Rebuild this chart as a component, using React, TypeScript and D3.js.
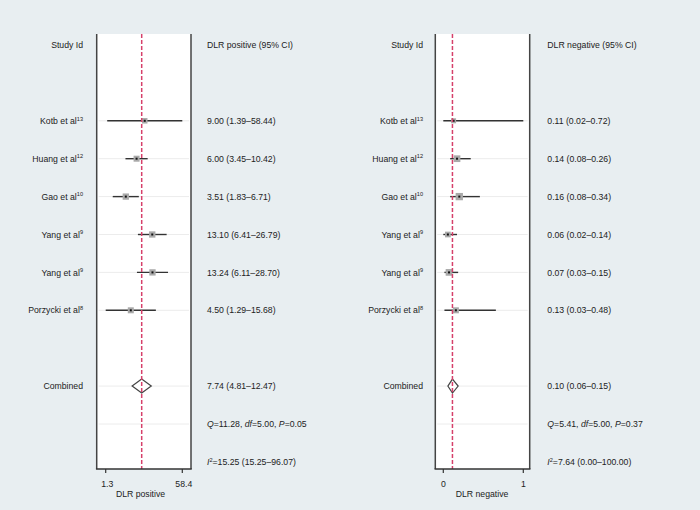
import React from "react";
import * as d3 from "d3";

const studies = ["Kotb et al", "Huang et al", "Gao et al", "Yang et al", "Yang et al", "Porzycki et al"];
const refs = ["13", "12", "10", "9", "9", "8"];

const posEst = [9.0, 6.0, 3.51, 13.1, 13.24, 4.5];
const posLo = [1.39, 3.45, 1.83, 6.41, 6.11, 1.29];
const posHi = [58.44, 10.42, 6.71, 26.79, 28.7, 15.68];
const posWeight = [5.5, 6, 6.3, 6.3, 6.3, 6];
const posPooled = [7.74, 4.81, 12.47];
const posQ = ["11.28", "5.00", "0.05"];
const posI2 = ["15.25", "15.25–96.07"];
const posTickValues = [1.29, 58.44];
const posTickLabels = ["1.3", "58.4"];

const negEst = [0.11, 0.14, 0.16, 0.06, 0.07, 0.13];
const negLo = [0.02, 0.08, 0.08, 0.02, 0.03, 0.03];
const negHi = [0.72, 0.26, 0.34, 0.14, 0.15, 0.48];
const negWeight = [5, 6.7, 7.3, 5.7, 6.7, 6];
const negPooled = [0.1, 0.06, 0.15];
const negQ = ["5.41", "5.00", "0.37"];
const negI2 = ["7.64", "0.00–100.00"];
const negTickValues = [0.02, 0.72];
const negTickLabels = ["0", "1"];

const fmt2 = d3.format(".2f");
const FONT = "'Liberation Sans', Arial, Helvetica, sans-serif";
const FS = 8.7;
const BG = "#e8eef1";
const RED = "#d6406a";
const INK = "#222";

const rowY = d3.scaleLinear().domain([0, 11]).range([45, 45 + 37.9 * 11]);

type PanelProps = {
  boxLeft: number;
  boxRight: number;
  tickInsetL: number;
  tickInsetR: number;
  labelRight: number;
  textLeft: number;
  titleX: number;
  log: boolean;
  est: number[];
  lo: number[];
  hi: number[];
  weight: number[];
  pooled: number[];
  q: string[];
  i2: string[];
  tickValues: number[];
  tickLabels: string[];
  header: string;
  axisTitle: string;
};

function Panel(p: PanelProps) {
  const top = 34;
  const bottom = 469;
  const x = (p.log ? d3.scaleLog() : d3.scaleLinear())
    .domain(p.tickValues)
    .range([p.boxLeft + p.tickInsetL, p.boxRight - p.tickInsetR]);
  const base = (y: number) => y + 3.1;
  const studyRows = studies.map((_, i) => i + 2);
  const pooledRow = 9;
  const qRow = 10;
  const i2Row = 11;
  const gridRows = [...studyRows, pooledRow, qRow];
  const [pe, pl, ph] = p.pooled;
  const py = rowY(pooledRow);
  const dh = 7;
  return (
    <g>
      <rect x={p.boxLeft} y={top} width={p.boxRight - p.boxLeft} height={bottom - top} fill="#fff" />
      {gridRows.map((r) => (
        <line key={"g" + r} x1={p.boxLeft + 2} x2={p.boxRight - 2} y1={rowY(r)} y2={rowY(r)} stroke="#ececec" strokeWidth={1} />
      ))}
      {/* header */}
      <text x={p.labelRight} y={base(rowY(0))} textAnchor="end" fontSize={FS} fill={INK}>Study Id</text>
      <text x={p.textLeft} y={base(rowY(0))} fontSize={FS} fill={INK}>{p.header}</text>
      {/* studies */}
      {studies.map((s, i) => {
        const y = rowY(i + 2);
        const w = p.weight[i];
        return (
          <g key={"s" + i}>
            <text x={p.labelRight} y={base(y)} textAnchor="end" fontSize={FS} fill={INK}>
              {s}
              <tspan fontSize={5.6} dy={-3.4}>{refs[i]}</tspan>
            </text>
            <line x1={x(p.lo[i])} x2={x(p.hi[i])} y1={y} y2={y} stroke="#333" strokeWidth={1.4} />
            <rect x={x(p.est[i]) - w / 2} y={y - w / 2} width={w} height={w} fill="#a9a9a9" />
            <rect x={x(p.est[i]) - 1} y={y - 1} width={2} height={2} fill="#111" />
            <text x={p.textLeft} y={base(y)} fontSize={FS} fill={INK}>
              {`${fmt2(p.est[i])} (${fmt2(p.lo[i])}–${fmt2(p.hi[i])})`}
            </text>
          </g>
        );
      })}
      {/* pooled */}
      <text x={p.labelRight} y={base(py)} textAnchor="end" fontSize={FS} fill={INK}>Combined</text>
      <path
        d={`M${x(pl)},${py} L${x(pe)},${py - dh} L${x(ph)},${py} L${x(pe)},${py + dh} Z`}
        fill="#fff"
        stroke="#444"
        strokeWidth={1.2}
      />
      <text x={p.textLeft} y={base(py)} fontSize={FS} fill={INK}>
        {`${fmt2(pe)} (${fmt2(pl)}–${fmt2(ph)})`}
      </text>
      <text x={p.textLeft} y={base(rowY(qRow))} fontSize={FS} fill={INK}>
        <tspan fontStyle="italic">Q</tspan>
        {`=${p.q[0]}, `}
        <tspan fontStyle="italic">df</tspan>
        {`=${p.q[1]}, `}
        <tspan fontStyle="italic">P</tspan>
        {`=${p.q[2]}`}
      </text>
      <text x={p.textLeft} y={base(rowY(i2Row))} fontSize={FS} fill={INK}>
        <tspan fontStyle="italic">I</tspan>
        <tspan fontSize={5.6} dy={-3.4}>2</tspan>
        <tspan dy={3.4}>{`=${p.i2[0]} (${p.i2[1]})`}</tspan>
      </text>
      {/* reference line */}
      <line x1={x(pe)} x2={x(pe)} y1={top} y2={bottom} stroke={RED} strokeWidth={1.5} strokeDasharray="4,2" />
      {/* box frame */}
      <line x1={p.boxLeft} x2={p.boxLeft} y1={top} y2={bottom} stroke="#444" strokeWidth={1.5} />
      <line x1={p.boxRight} x2={p.boxRight} y1={top} y2={bottom} stroke="#444" strokeWidth={1.5} />
      <line x1={p.boxLeft - 0.75} x2={p.boxRight + 0.75} y1={bottom} y2={bottom} stroke="#333" strokeWidth={1.5} />
      {p.tickValues.map((t, i) => (
        <g key={"t" + i}>
          <line x1={x(t)} x2={x(t)} y1={bottom} y2={bottom + 4} stroke="#333" strokeWidth={1.2} />
          <text x={x(t) + (p.log ? 1.5 : 0)} y={487} textAnchor="middle" fontSize={FS} fill={INK}>{p.tickLabels[i]}</text>
        </g>
      ))}
      <text x={p.titleX} y={497} textAnchor="middle" fontSize={FS} fill={INK}>{p.axisTitle}</text>
    </g>
  );
}

export default function App() {
  return (
    <svg
      width={700}
      height={510}
      style={{ position: "absolute", left: 0, top: 0, fontFamily: FONT }}
      xmlns="http://www.w3.org/2000/svg"
    >
      <rect x={0} y={0} width={700} height={510} fill={BG} />
      <Panel
        boxLeft={96.7}
        boxRight={191}
        tickInsetL={9}
        tickInsetR={8.7}
        labelRight={83}
        textLeft={207}
        titleX={140.5}
        log={true}
        est={posEst}
        lo={posLo}
        hi={posHi}
        weight={posWeight}
        pooled={posPooled}
        q={posQ}
        i2={posI2}
        tickValues={posTickValues}
        tickLabels={posTickLabels}
        header="DLR positive (95% CI)"
        axisTitle="DLR positive"
      />
      <Panel
        boxLeft={435.3}
        boxRight={529.7}
        tickInsetL={8}
        tickInsetR={6.4}
        labelRight={423}
        textLeft={547.3}
        titleX={482}
        log={false}
        est={negEst}
        lo={negLo}
        hi={negHi}
        weight={negWeight}
        pooled={negPooled}
        q={negQ}
        i2={negI2}
        tickValues={negTickValues}
        tickLabels={negTickLabels}
        header="DLR negative (95% CI)"
        axisTitle="DLR negative"
      />
    </svg>
  );
}
